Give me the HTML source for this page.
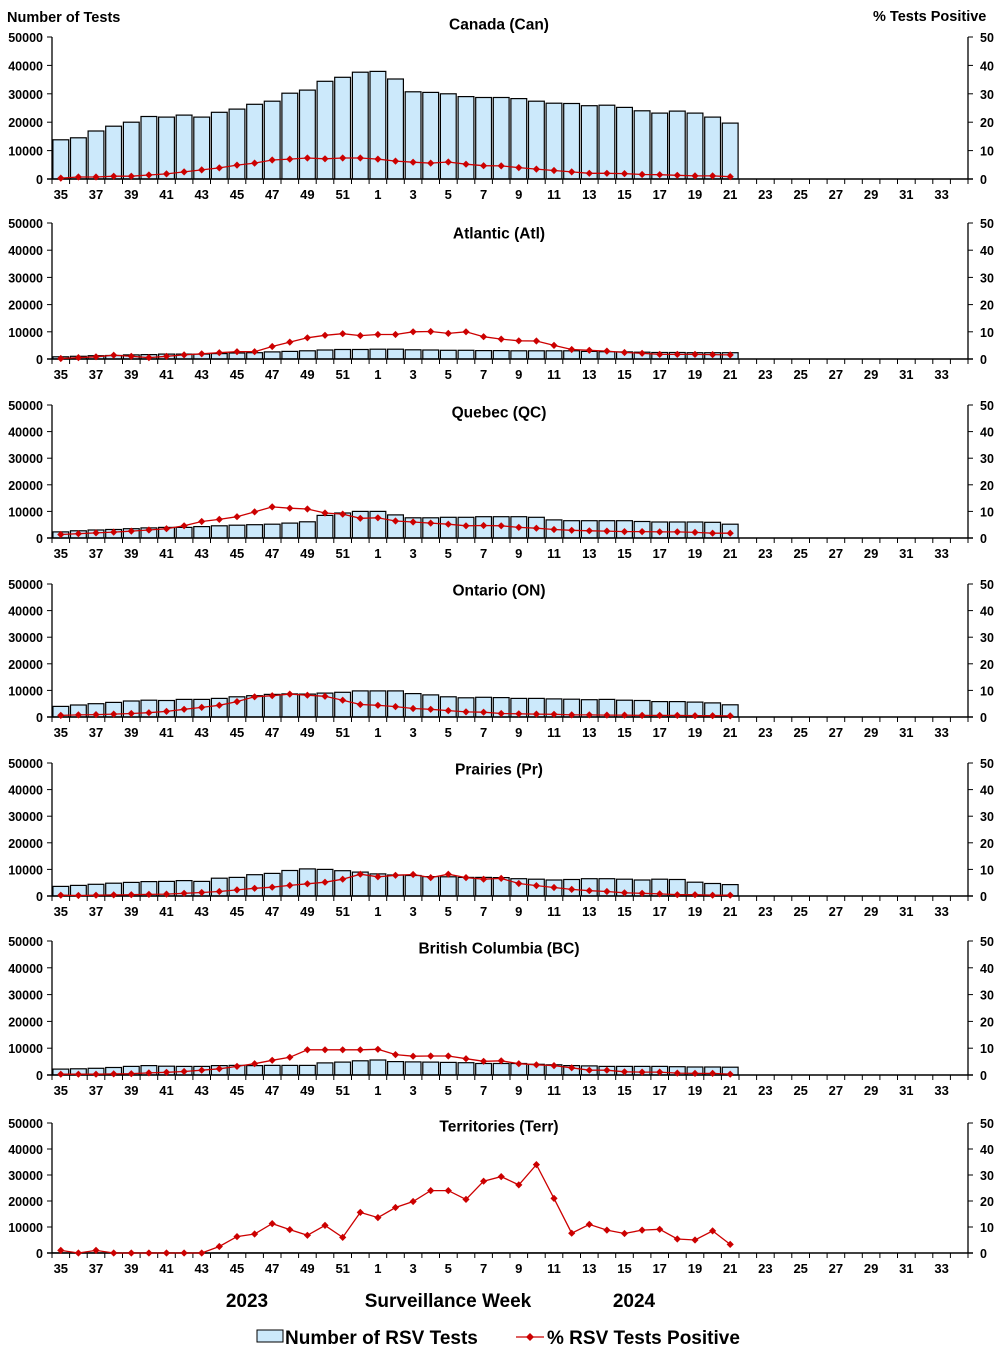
<!DOCTYPE html>
<html><head><meta charset="utf-8"><style>
html,body{margin:0;padding:0;background:#fff}
svg{display:block;font-family:"Liberation Sans",Arial,sans-serif;font-weight:bold}
</style></head><body>
<svg id="s" width="1002" height="1355" viewBox="0 0 1002 1355" xmlns="http://www.w3.org/2000/svg">
<text x="7" y="22" font-size="14.5">Number of Tests</text>
<text x="873" y="21" font-size="14.5">%  Tests Positive</text>
<text x="247" y="1307" font-size="19" text-anchor="middle">2023</text>
<text x="448" y="1307" font-size="19" text-anchor="middle">Surveillance Week</text>
<text x="634" y="1307" font-size="19" text-anchor="middle">2024</text>
<rect x="257" y="1330" width="26" height="12" fill="#cce9fb" stroke="#000" stroke-width="1"/>
<text x="285" y="1344" font-size="19">Number of RSV Tests</text>
<line x1="516" y1="1337" x2="544" y2="1337" stroke="#c00" stroke-width="1.3"/>
<path d="M530 1333 L534 1337 L530 1341 L526 1337Z" fill="#c00"/>
<text x="547" y="1344" font-size="19">% RSV Tests Positive</text>
<g id="g"></g>
</svg>
<script>
var P=[
["Canada (Can)",37,179,24,
[13.8,14.5,16.9,18.6,20,22,21.8,22.5,21.8,23.5,24.6,26.3,27.4,30.2,31.3,34.4,35.8,37.6,37.9,35.2,30.7,30.5,30,29,28.7,28.7,28.3,27.4,26.7,26.6,25.8,26,25.2,24,23.2,23.9,23.2,21.8,19.7],
[0.3,0.7,0.7,1,1,1.4,1.8,2.5,3.2,3.9,4.9,5.6,6.7,7,7.4,7.1,7.4,7.4,7,6.3,5.9,5.6,6,5.2,4.7,4.6,4,3.5,3,2.5,2,2,1.9,1.6,1.5,1.3,1.1,1.1,0.8]],
["Atlantic (Atl)",223,359,233,
[0.8,1,1.2,1.3,1.5,1.6,1.8,1.8,1.8,2,2.2,2.3,2.6,2.8,3,3.3,3.5,3.5,3.6,3.6,3.4,3.3,3.2,3.2,3.1,3.1,3,3,3,3,2.8,2.7,2.6,2.5,2.4,2.4,2.3,2.3,2.3],
[0.2,0.5,0.8,1.4,1,0.5,1,1.5,1.9,2.3,2.7,2.7,4.6,6.2,7.8,8.7,9.3,8.6,9,9,10,10.1,9.4,10,8.2,7.3,6.7,6.6,5,3.5,3.2,2.9,2.4,2.1,1.7,1.7,1.7,1.6,1.5]],
["Quebec (QC)",405,538,412,
[2.3,2.7,3,3.2,3.5,3.8,4,4,4.3,4.6,4.8,5,5.2,5.6,6.1,8.5,9.4,10,10,8.7,7.6,7.6,7.8,7.8,8,8,8,7.8,6.8,6.5,6.5,6.5,6.5,6.2,6,6,6,5.9,5.2],
[1.3,1.6,1.9,2.2,2.6,3,3.5,4.6,6.2,7,8,9.8,11.7,11.2,10.9,9.4,9,7.4,7.6,6.4,6,5.6,5.2,4.6,4.7,4.6,4,3.7,3.2,2.9,2.7,2.6,2.4,2.4,2.3,2.3,2.1,1.8,1.8]],
["Ontario (ON)",584,717,590,
[4,4.5,5,5.5,6,6.3,6.2,6.6,6.6,7,7.6,8,8.5,8.7,8.6,9,9.3,9.8,9.8,9.8,8.8,8.3,7.6,7.2,7.4,7.3,7,7,6.8,6.7,6.5,6.6,6.3,6.2,5.8,5.8,5.6,5.3,4.6],
[0.6,0.8,0.9,1.1,1.3,1.6,2.1,2.9,3.6,4.4,5.8,7.6,8,8.6,8.2,7.8,6.3,4.7,4.4,3.9,3.2,2.9,2.4,1.9,1.8,1.3,1.2,1.1,1,0.8,0.8,0.7,0.7,0.6,0.6,0.6,0.5,0.5,0.4]],
["Prairies (Pr)",763,896,769,
[3.6,4,4.4,4.8,5.1,5.4,5.5,5.8,5.5,6.7,7,8,8.5,9.6,10.2,10,9.5,9,8.3,7.9,7.7,7.3,7.2,7,7,6.9,6.5,6.3,6,6.2,6.5,6.5,6.3,6,6.3,6.2,5.2,4.7,4.3],
[0.3,0.2,0.3,0.4,0.5,0.6,0.7,1,1.3,1.7,2.3,2.9,3.3,4,4.6,5.2,6.3,8.2,7.2,7.8,8.1,6.9,8.2,6.9,6.3,6.6,4.7,3.9,3.2,2.5,2,1.7,1.2,1,0.8,0.5,0.5,0.3,0.3]],
["British Columbia (BC)",941,1075,948,
[2.2,2.3,2.5,2.8,3.2,3.5,3.3,3.2,3.2,3.5,3.6,3.5,3.6,3.6,3.6,4.5,4.8,5.3,5.6,5,4.9,4.8,4.7,4.6,4.3,4.3,4.3,4,3.8,3.5,3.4,3.2,3.2,3.2,3.2,3.1,3,3,2.9],
[0.3,0.3,0.3,0.4,0.5,0.8,1,1.3,1.8,2.3,3.2,4.2,5.5,6.6,9.4,9.4,9.4,9.4,9.6,7.6,7,7.1,7.1,6.1,5.1,5.3,4.2,3.8,3.5,2.7,1.8,1.8,1.2,1.1,1.1,0.7,0.6,0.6,0.3]],
["Territories (Terr)",1123,1253,1126,
[0.05,0.05,0.05,0.05,0.05,0.05,0.05,0.05,0.05,0.05,0.05,0.05,0.05,0.05,0.05,0.05,0.05,0.05,0.05,0.05,0.05,0.05,0.05,0.05,0.05,0.05,0.05,0.05,0.05,0.05,0.05,0.05,0.05,0.05,0.05,0.05,0.05,0.05,0.05],
[1,0,1,0,0,0,0,0,0,2.5,6.3,7.3,11.3,9,6.8,10.6,6,15.6,13.6,17.5,19.8,24,24,20.6,27.6,29.4,26.2,34,21,7.6,11,8.8,7.5,8.8,9.1,5.4,5,8.5,3.3]]
];
var L=52,R=968,W=(R-L)/52,h='';
function wk(i){var w=35+i;return w>52?w-52:w;}
P.forEach(function(p){
 var t=p[1],z=p[2],H=z-t;
 h+='<text x="499" y="'+(p[3]+5.5)+'" font-size="15.5" text-anchor="middle">'+p[0]+'</text>';
 p[4].forEach(function(v,i){var bh=v/50*H;h+='<rect x="'+(L+i*W+0.9).toFixed(1)+'" y="'+(z-bh).toFixed(1)+'" width="'+(W-1.8).toFixed(1)+'" height="'+bh.toFixed(1)+'" fill="#cce9fb" stroke="#000" stroke-width="1.2"/>';});
 h+='<line x1="'+L+'" y1="'+t+'" x2="'+L+'" y2="'+z+'" stroke="#000" stroke-width="1.3"/>';
 h+='<line x1="'+R+'" y1="'+t+'" x2="'+R+'" y2="'+z+'" stroke="#000" stroke-width="1.3"/>';
 h+='<line x1="'+(L-5)+'" y1="'+z+'" x2="'+(R+5)+'" y2="'+z+'" stroke="#000" stroke-width="1.5"/>';
 for(var k=0;k<=5;k++){var y=z-k*H/5;
  h+='<line x1="'+(L-5)+'" y1="'+y+'" x2="'+L+'" y2="'+y+'" stroke="#000"/>';
  h+='<line x1="'+R+'" y1="'+y+'" x2="'+(R+5)+'" y2="'+y+'" stroke="#000"/>';
  h+='<text x="'+(L-9)+'" y="'+(y+5)+'" font-size="12.5" text-anchor="end">'+(k*10000)+'</text>';
  h+='<text x="'+(R+12)+'" y="'+(y+5)+'" font-size="12.5">'+(k*10)+'</text>';}
 for(var i=0;i<=52;i++){var x=L+i*W;h+='<line x1="'+x.toFixed(1)+'" y1="'+z+'" x2="'+x.toFixed(1)+'" y2="'+(z+5)+'" stroke="#000"/>';}
 for(var i=0;i<52;i+=2){h+='<text x="'+(L+(i+0.5)*W).toFixed(1)+'" y="'+(z+20)+'" font-size="13" text-anchor="middle">'+wk(i)+'</text>';}
 var pts=p[5].map(function(v,i){return [(L+(i+0.5)*W),z-v/50*H];});
 h+='<polyline points="'+pts.map(function(q){return q[0].toFixed(1)+','+q[1].toFixed(1);}).join(' ')+'" fill="none" stroke="#c00" stroke-width="1.3"/>';
 pts.forEach(function(q){h+='<path d="M'+q[0].toFixed(1)+' '+(q[1]-3.6).toFixed(1)+'l3.6 3.6l-3.6 3.6l-3.6 -3.6z" fill="#c00"/>';});
});
document.getElementById('g').innerHTML=h;
</script>
</body></html>
